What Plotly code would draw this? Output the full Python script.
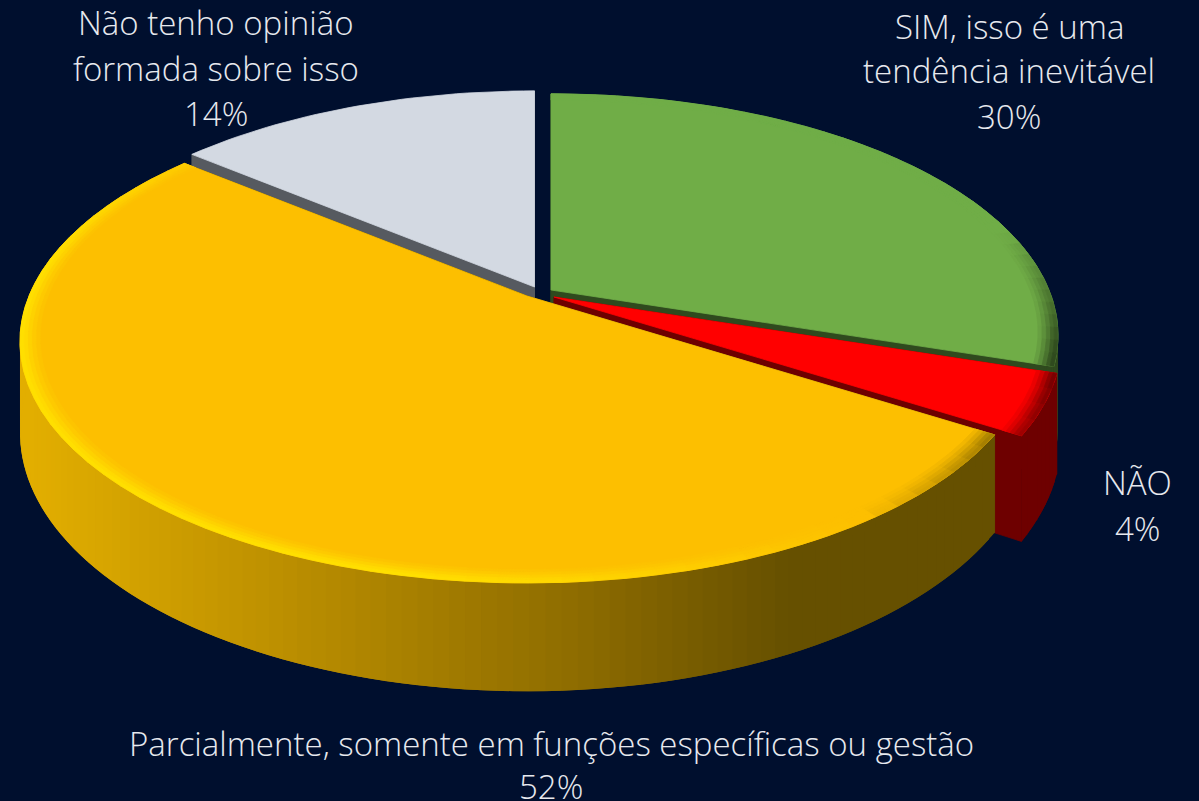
import math
import plotly.graph_objects as go

# ---- data ----
categories = ["SIM, isso é uma tendência inevitável", "NÃO",
              "Parcialmente, somente em funções específicas ou gestão",
              "Não tenho opinião formada sobre isso"]
values = [30, 4, 52, 14]
face_colors = ["#70AD47", "#FF0000", "#FDBF00", "#D3D9E2"]
light_colors = ["#8CC864", "#FF0000", "#FFDF00", "#D3D9E2"]
wall_colors = ["#2F4A1E", "#6E0000", "#665000", "#565A60"]
label_lines = [
    ["SIM, isso é uma", "tendência inevitável", "30%"],
    ["NÃO", "4%"],
    ["Parcialmente, somente em funções específicas ou gestão", "52%"],
    ["Não tenho opinião", "formada sobre isso", "14%"],
]
label_x = [1009, 1137, 551, 216]
label_y = [[26, 70, 116], [482, 528], [743, 786], [22, 68, 113]]
apex_x = [551, 554, 527, 534.5]
apex_y = [290, 297, 296, 287]
depths = [88, 95, 88, 88]

BG = "#000F2E"
R, B, K = 498, 233, 0.188


def proj(u, v, z, ox, oy):
    s = 1 / (1 - K * v)
    return ox + R * u * s, oy + (B * v + z) * s


def rgb(c):
    return tuple(int(c[i:i + 2], 16) for i in (1, 3, 5))


def mix(a, b, t):
    a, b = rgb(a), rgb(b)
    return "#%02X%02X%02X" % tuple(round(a[i] + (b[i] - a[i]) * t) for i in range(3))


fig = go.Figure()


def poly(pts, color, edge=0.8):
    xs = [p[0] for p in pts] + [pts[0][0]]
    ys = [p[1] for p in pts] + [pts[0][1]]
    fig.add_trace(go.Scatter(x=xs, y=ys, mode="lines", fill="toself", fillcolor=color,
                             line=dict(color=color, width=edge), hoverinfo="skip",
                             showlegend=False))


def pt(theta, r, z, ox, oy):
    return proj(r * math.sin(theta), -r * math.cos(theta), z, ox, oy)


def yellow_wall_color(x):
    stops = [(30, "#E2AE00"), (300, "#B88C00"), (560, "#8F6D00"), (780, "#665000"), (1000, "#665000")]
    for (x0, c0), (x1, c1) in zip(stops, stops[1:]):
        if x <= x1:
            return mix(c0, c1, max(0, (x - x0) / (x1 - x0)))
    return stops[-1][1]


bounds = []
acc = 0
for v in values:
    bounds.append((acc / 100 * 2 * math.pi, (acc + v) / 100 * 2 * math.pi))
    acc += v

for i in [3, 0, 1, 2]:
    a0, a1 = bounds[i]
    ox, oy, H = apex_x[i], apex_y[i], depths[i]
    n = max(4, int((a1 - a0) / math.radians(1.5)))
    th = [a0 + (a1 - a0) * j / n for j in range(n + 1)]
    # cut faces
    for a in (a0, a1):
        poly([(ox, oy), pt(a, 1, 0, ox, oy), pt(a, 1, H, ox, oy), (ox, oy + H)], wall_colors[i])
    # outer wall, each strip overlapping the next so no seams show
    for j in range(n):
        m = (th[j] + th[j + 1]) / 2
        end = th[min(j + 2, n)]
        q = [pt(th[j], 1, 0, ox, oy), pt(end, 1, 0, ox, oy),
             pt(end, 1, H, ox, oy), pt(th[j], 1, H, ox, oy)]
        c = yellow_wall_color((q[0][0] + q[1][0]) / 2) if i == 2 else wall_colors[i]
        if -math.cos(m) > -0.05:
            poly(q, c, edge=0)
    # top face
    poly([(ox, oy)] + [pt(a, 1, 0, ox, oy) for a in th], face_colors[i])
    # bevel rim
    if i != 3:
        rings = [(0.962, 0.970, 0.15), (0.970, 0.978, 0.35), (0.978, 0.986, 0.6),
                 (0.986, 0.993, 0.85), (0.993, 1.0, 1.0)]
        rim_n = max(3, (len(th) - 1) // 2)
        rth = [a0 + (a1 - a0) * j / rim_n for j in range(rim_n + 1)]
        for r0, r1, w in rings:
            for j in range(rim_n):
                m = (rth[j] + rth[j + 1]) / 2
                t = math.cos(m - math.radians(235))
                if t > 0:
                    c = mix(face_colors[i], light_colors[i], min(1, t * 1.4) * w)
                else:
                    fade = min(1, max(0, (math.degrees(m) - 75) / 30))
                    c = mix(face_colors[i], wall_colors[i], min(1, -t * 1.6) * w * fade)
                poly([pt(rth[j], r0, 0, ox, oy), pt(rth[j + 1], r0, 0, ox, oy),
                      pt(rth[j + 1], r1, 0, ox, oy), pt(rth[j], r1, 0, ox, oy)], c)

for lines, lx, ys in zip(label_lines, label_x, label_y):
    for text, ly in zip(lines, ys):
        fig.add_annotation(x=lx, y=ly, text=text, showarrow=False, xanchor="center", yanchor="middle",
                           font=dict(family="Open Sans", size=33, color="#E7E9EE", weight=300))

fig.update_layout(width=1199, height=801, margin=dict(l=0, r=0, t=0, b=0),
                  paper_bgcolor=BG, plot_bgcolor=BG, showlegend=False,
                  xaxis=dict(range=[0, 1199], visible=False, fixedrange=True),
                  yaxis=dict(range=[801, 0], visible=False, fixedrange=True))
fig.write_html("out.html", config={"displayModeBar": False},
               post_script="document.body.style.margin='0';document.body.style.background='%s';" % BG)
